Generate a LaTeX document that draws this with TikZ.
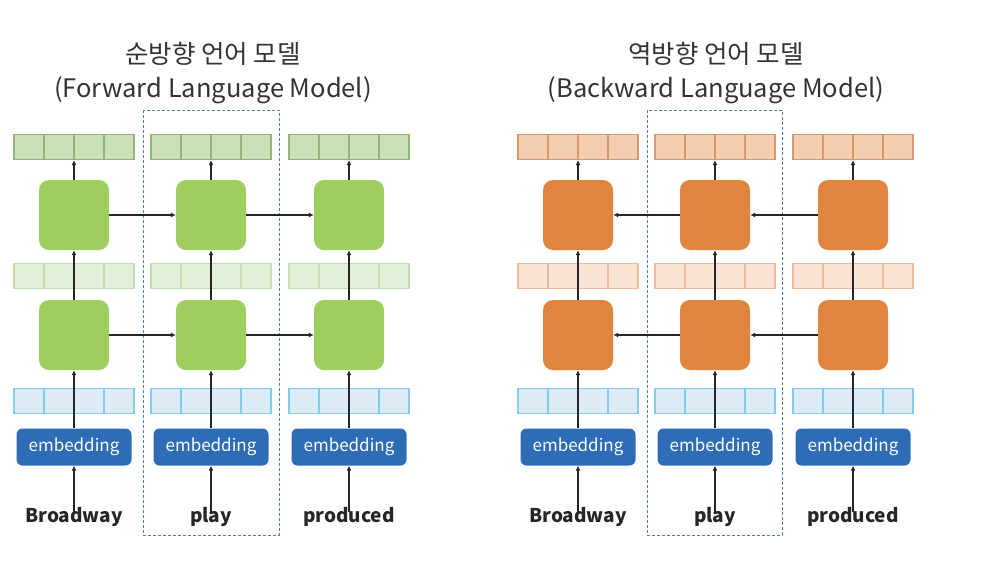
\documentclass[tikz,border=0pt]{standalone}
\usepackage{fontspec}
\setmainfont{Noto Sans CJK KR}
\usetikzlibrary{arrows.meta}
\definecolor{rnngreen}{HTML}{9DCE5E}
\definecolor{rnnorange}{HTML}{E0843F}
\definecolor{outgreen}{HTML}{C9E0B8}
\definecolor{outgreenl}{HTML}{93B57A}
\definecolor{midgreen}{HTML}{E3EFD9}
\definecolor{midgreenl}{HTML}{C3DFAE}
\definecolor{outorange}{HTML}{F2CDB0}
\definecolor{outorangel}{HTML}{D9976B}
\definecolor{midorange}{HTML}{F8E3D4}
\definecolor{midorangel}{HTML}{F0BA98}
\definecolor{inblue}{HTML}{DEEBF7}
\definecolor{inbluel}{HTML}{7FCDF0}
\definecolor{embblue}{HTML}{2E6DB6}
\definecolor{boxline}{HTML}{4F7BAA}
\tikzset{
  vecbox/.style 2 args={fill=#1, draw=#2, line width=1.3pt,
    minimum width=120pt, minimum height=25pt, inner sep=0pt,
    path picture={\foreach \k in {1,2,3}
      \draw[#2, line width=1.3pt]
      ([xshift=\k*30pt]path picture bounding box.south west) --
      ([xshift=\k*30pt]path picture bounding box.north west);}},
  rnn/.style={fill=#1, rounded corners=10pt, minimum width=70pt,
    minimum height=70pt, inner sep=0pt},
  emb/.style={fill=embblue, rounded corners=6pt, minimum width=115pt,
    minimum height=37pt, text=white, font=\fontsize{17}{17}\selectfont},
  word/.style={font=\fontsize{19}{19}\selectfont\bfseries, text=black!85},
  title/.style={font=\fontsize{25.5}{28}\selectfont, text=black!80},
  conn/.style={draw=black!85, line width=1.4pt,
    -{Latex[length=5pt,width=5pt]}},
  focus/.style={draw=boxline, dash pattern=on 3pt off 2pt, line width=1pt}
}
\begin{document}
\begin{tikzpicture}[x=1pt,y=-1pt]
  \useasboundingbox (0,0) rectangle (996,566);
  % titles
  \node[title] (ftitle) at (213,54) {순방향 언어 모델};
  \node[title] (fsub) at (213,90) {(Forward Language Model)};
  \node[title] (btitle) at (716,54) {역방향 언어 모델};
  \node[title] (bsub) at (716,90) {(Backward Language Model)};
  % dashed boxes round the word play
  \draw[focus] (143,110) rectangle (279,535);
  \draw[focus] (647,110) rectangle (782,535);
  % forward model
  \foreach \i/\x/\w in {1/74/Broadway,2/211/play,3/349/produced}{
    \node[vecbox={outgreen}{outgreenl}] (fo\i) at (\x,147) {};
    \node[rnn=rnngreen] (fh\i) at (\x,215) {};
    \node[vecbox={midgreen}{midgreenl}] (fm\i) at (\x,276) {};
    \node[rnn=rnngreen] (fl\i) at (\x,335) {};
    \node[vecbox={inblue}{inbluel}] (fi\i) at (\x,401) {};
    \node[emb] (fe\i) at (\x,447) {embedding};
    \node[word] (fw\i) at (\x,517) {\w};
    \draw[conn] (fh\i) -- (fo\i);
    \draw[conn] (fl\i) -- (fh\i);
    \draw[conn] (fe\i) -- (fl\i);
    \draw[conn] ([yshift=-8pt]fw\i.north) -- (fe\i);
  }
  \draw[conn] (fh1) -- (fh2);
  \draw[conn] (fh2) -- (fh3);
  \draw[conn] (fl1) -- (fl2);
  \draw[conn] (fl2) -- (fl3);
  % backward model
  \foreach \i/\x/\w in {1/578/Broadway,2/715/play,3/853/produced}{
    \node[vecbox={outorange}{outorangel}] (bo\i) at (\x,147) {};
    \node[rnn=rnnorange] (bh\i) at (\x,215) {};
    \node[vecbox={midorange}{midorangel}] (bm\i) at (\x,276) {};
    \node[rnn=rnnorange] (bl\i) at (\x,335) {};
    \node[vecbox={inblue}{inbluel}] (bi\i) at (\x,401) {};
    \node[emb] (be\i) at (\x,447) {embedding};
    \node[word] (bw\i) at (\x,517) {\w};
    \draw[conn] (bh\i) -- (bo\i);
    \draw[conn] (bl\i) -- (bh\i);
    \draw[conn] (be\i) -- (bl\i);
    \draw[conn] ([yshift=-8pt]bw\i.north) -- (be\i);
  }
  \draw[conn] (bh3) -- (bh2);
  \draw[conn] (bh2) -- (bh1);
  \draw[conn] (bl3) -- (bl2);
  \draw[conn] (bl2) -- (bl1);
\end{tikzpicture}
\end{document}
